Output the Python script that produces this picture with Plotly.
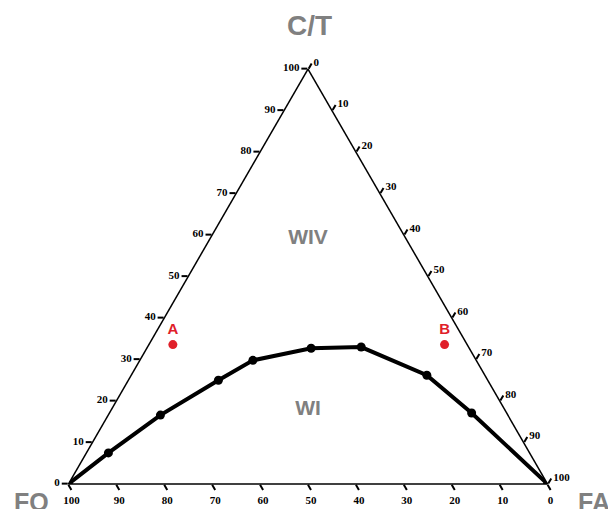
import plotly.graph_objects as go

# Boundary curve (percent values)
curve_ct = [0, 7.5, 16.6, 25.0, 29.8, 32.7, 33.0, 26.2, 17.1, 0]
curve_fa = [0, 4.6, 10.9, 18.8, 23.6, 34.3, 44.6, 61.7, 75.6, 100]
curve_fo = [100 - a - c for a, c in zip(curve_ct, curve_fa)]

# Sample points
pt_names = ["A", "B"]
pt_ct = [33.6, 33.6]
pt_fa = [5.0, 61.7]
pt_fo = [100 - a - c for a, c in zip(pt_ct, pt_fa)]

# Region labels
reg_names = ["WIV", "WI"]
reg_ct = [59.2, 17.8]
reg_fa = [20.4, 41.1]
reg_fo = [100 - a - c for a, c in zip(reg_ct, reg_fa)]

vertex_labels = ["C/T", "FO", "FA"]

GRAY = "#808080"
RED = "#e0202a"
W, H = 616, 509
ML, MR, MT, MB = 60, 76, 61, 33

fig = go.Figure()
fig.add_trace(go.Scatterternary(
    a=curve_ct, b=curve_fo, c=curve_fa, mode="lines+markers",
    line=dict(color="black", width=4),
    marker=dict(color="black", size=9),
    showlegend=False, hoverinfo="skip"))
fig.add_trace(go.Scatterternary(
    a=pt_ct, b=pt_fo, c=pt_fa, mode="markers+text", text=pt_names,
    textposition="top center",
    textfont=dict(family="Arial, Liberation Sans", size=15, color=RED, weight="bold"),
    marker=dict(color=RED, size=9),
    showlegend=False, hoverinfo="skip"))
fig.add_trace(go.Scatterternary(
    a=reg_ct, b=reg_fo, c=reg_fa, mode="text", text=reg_names,
    textfont=dict(family="Arial, Liberation Sans", size=21, color=GRAY, weight="bold"),
    showlegend=False, hoverinfo="skip"))

tickfont = dict(family="Liberation Serif, Times New Roman", size=11, color="black", weight="bold")
axis_common = dict(
    min=0, showgrid=False, showline=True, linecolor="black", linewidth=1.5,
    ticks="outside", ticklen=6, tickwidth=1.5, tickcolor="black",
    tick0=0, dtick=10, tickfont=tickfont, title=dict(text=""))


def px2paper(px, py):
    return (px - ML) / (W - ML - MR), (H - MB - py) / (H - MT - MB)


vertex_pos = [(301, 18), (23, 494), (586, 494)]
vertex_size = [28, 25, 25]
annotations = []
for lab, (px, py), sz in zip(vertex_labels, vertex_pos, vertex_size):
    x, y = px2paper(px, py)
    annotations.append(dict(
        text=lab, x=x, y=y, xref="paper", yref="paper", xanchor="center",
        yanchor="middle", showarrow=False,
        font=dict(family="Arial, Liberation Sans", size=sz, color=GRAY, weight="bold")))

fig.update_layout(
    width=W, height=H,
    margin=dict(l=ML, r=MR, t=MT, b=MB),
    paper_bgcolor="white",
    ternary=dict(
        sum=100, bgcolor="white",
        domain=dict(x=[0, 1], y=[0, 1]),
        aaxis=axis_common, baxis=axis_common, caxis=axis_common),
    annotations=annotations,
)

fig.write_html("out.html")
